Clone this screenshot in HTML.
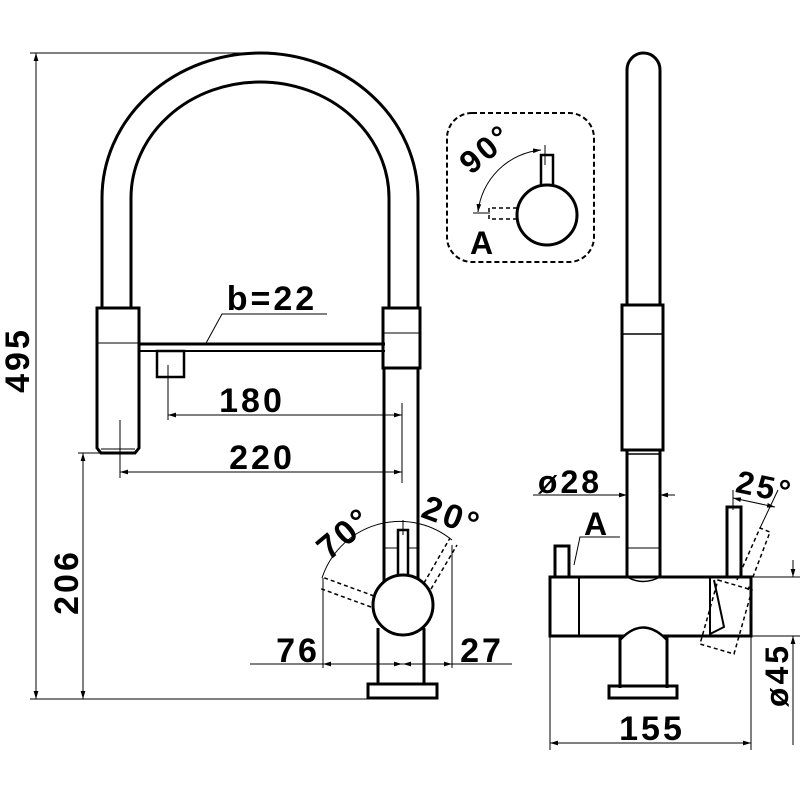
<!DOCTYPE html>
<html><head><meta charset="utf-8"><style>
html,body{margin:0;padding:0;background:#fff}
svg{display:block}
text{font-family:"Liberation Sans",sans-serif;font-weight:bold;fill:#000;letter-spacing:3px}
</style></head><body>
<svg width="800" height="800" viewBox="0 0 800 800" xmlns="http://www.w3.org/2000/svg">
<defs>
<marker id="ar" viewBox="0 0 10 10" refX="10" refY="5" markerWidth="8" markerHeight="8" orient="auto-start-reverse"><path d="M0,2 L10,5 L0,8z" fill="#000"/></marker>
</defs>
<g fill="none" stroke="#000">
<path d="M102,308 L102,198 A158,145 0 0 1 418,198 L418,308" stroke-width="3"/>
<path d="M131,308 L131,198 A129,116 0 0 1 389,198 L389,308" stroke-width="3"/>
<path d="M97,308 H139 V448 L135,453 H101 L97,448 Z" stroke-width="3"/>
<line x1="97" y1="343" x2="139" y2="343" stroke-width="1"/>
<line x1="101" y1="449" x2="135" y2="449" stroke-width="1"/>
<line x1="139" y1="344" x2="385" y2="344" stroke-width="3"/>
<line x1="139" y1="351" x2="385" y2="351" stroke-width="2"/>
<rect x="157" y="351" width="27" height="26" stroke-width="2.5"/>
<rect x="383" y="308" width="37" height="60" stroke-width="3"/>
<line x1="383" y1="333" x2="420" y2="333" stroke-width="1"/>
<line x1="384" y1="368" x2="384" y2="582" stroke-width="3"/>
<line x1="418" y1="368" x2="418" y2="582" stroke-width="3"/>
<line x1="384" y1="548" x2="418" y2="548" stroke-width="1"/>
<rect x="398" y="530" width="10" height="50" stroke-width="2.5" fill="#fff"/>
<circle cx="403" cy="605" r="30" stroke-width="3" fill="#fff"/>
<line x1="378" y1="628" x2="378" y2="684" stroke-width="3"/>
<line x1="424" y1="628" x2="424" y2="684" stroke-width="3"/>
<rect x="368" y="684" width="69" height="14" stroke-width="3"/>
<path d="M374,596 L322,577 M371,607 L319,588" stroke-width="1.5" stroke-dasharray="4,3"/>
<path d="M424,583 L450,538 M431,589 L457,545" stroke-width="1.5" stroke-dasharray="4,3"/>
<path d="M322,578 A82,82 0 0 1 452,540" stroke-width="1"/>
<g stroke-width="1">
<line x1="30" y1="53" x2="260" y2="53"/>
<line x1="36" y1="53" x2="36" y2="699" marker-start="url(#ar)" marker-end="url(#ar)"/>
<line x1="30" y1="699" x2="370" y2="699"/>
<line x1="78" y1="453" x2="100" y2="453"/>
<line x1="83" y1="453" x2="83" y2="699" marker-start="url(#ar)" marker-end="url(#ar)"/>
<line x1="168" y1="365" x2="168" y2="420"/>
<line x1="120" y1="420" x2="120" y2="478"/>
<line x1="402" y1="403" x2="402" y2="483"/>
<line x1="168" y1="415" x2="402" y2="415" marker-start="url(#ar)" marker-end="url(#ar)"/>
<line x1="120" y1="472" x2="402" y2="472" marker-start="url(#ar)" marker-end="url(#ar)"/>
<polyline points="205,345 222,314 327,314"/>
<line x1="323" y1="578" x2="323" y2="668"/>
<line x1="452" y1="545" x2="452" y2="668"/>
<line x1="250" y1="664" x2="512" y2="664"/>
<line x1="330" y1="664" x2="323" y2="664" marker-end="url(#ar)"/>
<line x1="390" y1="664" x2="402" y2="664" marker-end="url(#ar)"/>
<line x1="415" y1="664" x2="403" y2="664" marker-end="url(#ar)"/>
<line x1="440" y1="664" x2="452" y2="664" marker-end="url(#ar)"/>
<line x1="403" y1="520" x2="403" y2="535"/>
</g>
<path d="M627,305 V70 A16.5,17 0 0 1 660,70 V305" stroke-width="3"/>
<rect x="622" y="305" width="41" height="145" stroke-width="3"/>
<line x1="622" y1="334" x2="663" y2="334" stroke-width="1.5"/>
<line x1="627" y1="450" x2="627" y2="577" stroke-width="3"/>
<line x1="660" y1="450" x2="660" y2="577" stroke-width="3"/>
<line x1="627" y1="454" x2="660" y2="454" stroke-width="1.5"/>
<line x1="627" y1="548" x2="660" y2="548" stroke-width="1"/>
<rect x="550" y="577" width="201" height="59" stroke-width="3"/>
<line x1="579" y1="577" x2="579" y2="636" stroke-width="2"/>
<line x1="710" y1="577" x2="710" y2="636" stroke-width="2"/>
<path d="M627,577 Q643,586 660,577" stroke-width="1.5"/>
<path d="M620,640 Q643,615 667,640" stroke-width="2.5" fill="#fff"/>
<line x1="620" y1="636" x2="620" y2="688" stroke-width="3"/>
<line x1="667" y1="636" x2="667" y2="688" stroke-width="3"/>
<rect x="609" y="686" width="68" height="12" stroke-width="3"/>
<rect x="555" y="546" width="14" height="31" stroke-width="3"/>
<rect x="727" y="507" width="14" height="70" stroke-width="3"/>
<path d="M714,580 L724,627 L710,634" stroke-width="2"/>
<path d="M718,580 L752,590 L734,654 L700,644 Z" stroke-width="1.5" stroke-dasharray="4,3"/>
<path d="M737,580 L760,528 L770,532 L748,590" stroke-width="1.5" stroke-dasharray="4,3"/>
<g stroke-width="1">
<line x1="533" y1="495" x2="627" y2="495" marker-end="url(#ar)"/>
<line x1="675" y1="495" x2="660" y2="495" marker-end="url(#ar)"/>
<polyline points="574,565 580,537 620,537"/>
<line x1="550" y1="636" x2="550" y2="750"/>
<line x1="751" y1="636" x2="751" y2="750"/>
<line x1="550" y1="743" x2="751" y2="743" marker-start="url(#ar)" marker-end="url(#ar)"/>
<line x1="752" y1="577" x2="800" y2="577"/>
<line x1="752" y1="636" x2="800" y2="636"/>
<line x1="793" y1="560" x2="793" y2="577" marker-end="url(#ar)"/>
<line x1="793" y1="655" x2="793" y2="636" marker-end="url(#ar)"/>
<line x1="793" y1="636" x2="793" y2="745"/>
<line x1="733" y1="490" x2="733" y2="510"/>
<line x1="733" y1="498" x2="775" y2="507" marker-start="url(#ar)" marker-end="url(#ar)"/>
<line x1="760" y1="528" x2="778" y2="490"/>
</g>
<rect x="447" y="113" width="147" height="149" rx="25" stroke-width="2" stroke-dasharray="5,3"/>
<rect x="541" y="155" width="12" height="32" stroke-width="2.5"/>
<circle cx="547" cy="215" r="30" stroke-width="3" fill="#fff"/>
<path d="M517,208 H489 V219 H517" stroke-width="1.5" stroke-dasharray="4,3"/>
<path d="M478,212 A70,70 0 0 1 541,150" stroke-width="1" marker-start="url(#ar)" marker-end="url(#ar)"/>
<line x1="473" y1="213" x2="490" y2="213" stroke-width="1"/>
<line x1="545" y1="145" x2="545" y2="165" stroke-width="1"/>
</g>
<text x="272" y="310" font-size="34" text-anchor="middle">b=22</text>
<text x="252" y="412" font-size="34" text-anchor="middle">180</text>
<text x="262" y="469" font-size="34" text-anchor="middle">220</text>
<text x="298" y="662" font-size="34" text-anchor="middle">76</text>
<text x="482" y="662" font-size="34" text-anchor="middle">27</text>
<text transform="translate(352,542) rotate(-40)" font-size="34" text-anchor="middle">70°</text>
<text transform="translate(448,527) rotate(20)" font-size="34" text-anchor="middle">20°</text>
<text transform="translate(29,360) rotate(-90)" font-size="34" text-anchor="middle">495</text>
<text transform="translate(78,582) rotate(-90)" font-size="34" text-anchor="middle">206</text>
<text transform="translate(493,157) rotate(-40)" font-size="32" text-anchor="middle">90°</text>
<text x="483" y="254" font-size="32" text-anchor="middle">A</text>
<text x="570" y="493" font-size="32" text-anchor="middle">ø28</text>
<text x="597" y="535" font-size="32" text-anchor="middle">A</text>
<text x="765" y="498" font-size="32" text-anchor="middle" transform="rotate(12,765,486)">25°</text>
<text x="652" y="740" font-size="34" text-anchor="middle">155</text>
<text transform="translate(788,675) rotate(-90)" font-size="32" text-anchor="middle">ø45</text>
</svg>
</body></html>
